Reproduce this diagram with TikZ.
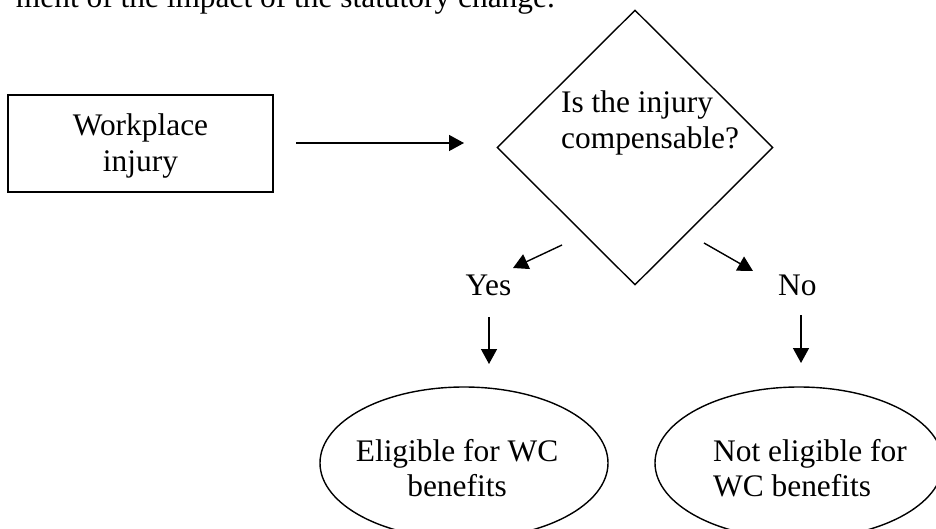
\documentclass[tikz,border=0pt]{standalone}
\usepackage{fontspec}
\setmainfont{Liberation Serif}
\usetikzlibrary{shapes.geometric,arrows.meta}
\tikzset{
  ln/.style={line width=1.4pt, black},
  arr/.style={ln, -{Triangle[length=15pt,width=16pt]}},
  txt/.style={inner sep=0pt, font=\fontsize{31.4}{35}\selectfont}
}
\begin{document}
\begin{tikzpicture}[x=1pt,y=-1pt]
\useasboundingbox (0,0) rectangle (936,529);
\clip (0,0) rectangle (936,529);
% cut-off line of text at the top
\node[txt, anchor=base east] (top) at (555,8) {ment of the impact of the statutory change.};
% start box
\node[ln, draw, rectangle, minimum width=265pt, minimum height=97pt, inner sep=0pt] (box) at (140.5,143.5) {};
\node[txt, align=center, font=\fontsize{31.4}{36}\selectfont] (w) at (140.5,145.7) {Workplace\\injury};
% decision diamond
\node[ln, draw, diamond, minimum width=276pt, minimum height=275pt, inner sep=0pt] (dia) at (635,147.5) {};
\node[txt, anchor=west, align=left, font=\fontsize{31.4}{36}\selectfont] (q) at (561,122.7)
      {Is the injury\\compensable?};
% yes / no labels
\node[txt, anchor=base] (yes) at (488.5,295) {Yes};
\node[txt, anchor=base west] (no) at (778,295) {No};
% outcome ellipses
\node[ln, draw, ellipse, minimum width=288pt, minimum height=152pt, inner sep=0pt] (el1) at (464,463) {};
\node[ln, draw, ellipse, minimum width=288pt, minimum height=152pt, inner sep=0pt] (el2) at (799,463) {};
\node[txt, align=center] (t1) at (457,468.5) {Eligible for WC\\benefits};
\node[txt, anchor=west, align=left] (t2) at (713,467.8) {Not eligible for\\WC benefits};
% connector end points
\coordinate (a1) at (296,143);
\coordinate (a2) at (464,143);
\coordinate (b1) at (562,245);
\coordinate (b2) at (513,268);
\coordinate (c1) at (704,243);
\coordinate (c2) at (753,271);
\coordinate (d1) at (489,317);
\coordinate (d2) at (489,364);
\coordinate (e1) at (801,315);
\coordinate (e2) at (801,363);
\draw[arr] (a1) -- (a2);
\draw[arr] (b1) -- (b2);
\draw[arr] (c1) -- (c2);
\draw[arr] (d1) -- (d2);
\draw[arr] (e1) -- (e2);
\end{tikzpicture}
\end{document}
